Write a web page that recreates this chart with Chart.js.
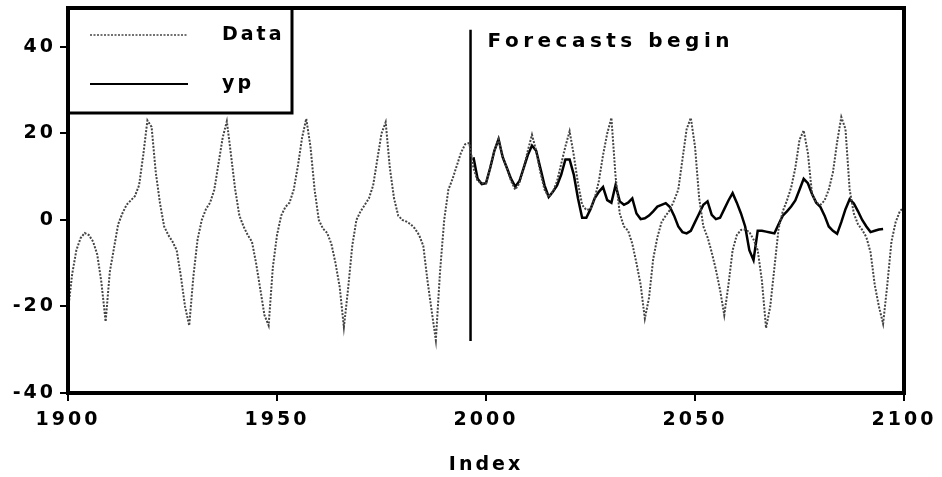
<!DOCTYPE html>
<html>
<head>
<meta charset="utf-8">
<script src="https://cdn.jsdelivr.net/npm/chart.js@4.4.1/dist/chart.umd.min.js"></script>
<style>
  html, body { margin: 0; padding: 0; background: #fff; }
</style>
</head>
<body>
<canvas id="chart" width="942" height="477"></canvas>
<script>
// Observed series, one value per year from 1900 to 2100
const dataStartYear = 1900;
const dataValues = [
  -21, -12.5, -7, -4.2, -3, -3.5, -5, -8, -14.5, -23.5,
  -12, -6.5, -1, 1.5, 3.5, 4.5, 5.5, 8, 15, 23,
  21.5, 11, 3.9, -1.5, -3.5, -5, -7, -13, -20, -24.4,
  -13, -4.5, 0, 2.5, 4, 7, 13, 19, 22.8, 15,
  7, 1, -1.5, -3.5, -5, -10, -16, -22, -24.4, -11,
  -3.5, 1, 3, 4, 7, 12.5, 19, 23.4, 17, 7,
  0, -2, -3, -5.5, -10, -15.5, -24.8, -16, -6, 0,
  2, 3.5, 5, 8, 14, 20, 22.6, 12, 5, 1,
  0, -0.4, -1, -2, -3.5, -6, -14, -21, -27.8, -12,
  0, 7, 9.5, 12.5, 15.5, 17.5, 17.8, 12, 9, 8.5,
  8.5, 12, 16, 18.7, 14.5, 12, 9, 7, 8.5, 12,
  16, 19.7, 16, 11, 7, 5.3, 6.5, 9, 13, 17,
  20.5, 15, 8.5, 3.5, 2.3, 2.5, 5, 9, 15, 20,
  23.6, 10, 1.5, -1.5, -2.5, -5.5, -10, -15, -22.8, -18,
  -9, -4, -0.5, 1, 2.3, 4.5, 7, 14, 21, 23.6,
  17, 5, -1.5, -4, -7.5, -11.5, -16.2, -22, -15, -7,
  -3.5, -2.3, -2.2, -2.8, -4.5, -7, -14, -25, -20, -11,
  -2, 2, 4.5, 7.5, 12, 18.5, 20.7, 15.5, 6, 4,
  3.5, 4.5, 7, 11, 18, 23.8, 21, 7, 1.5, -1,
  -2.3, -4, -7.5, -15, -20, -24, -15, -5, -0.5, 2,
  3
];

// Forecast series yp, one value per year from 1997 to 2095
const ypStartYear = 1997;
const ypValues = [
  14.5, 9.5, 8.3,
  8.5, 12, 16, 18.7, 14.5, 12, 9.5, 7.7, 9, 12,
  15, 17.2, 16, 12, 8, 5.3, 6.5, 8, 10.5, 14,
  14, 10.5, 5, 0.5, 0.5, 2.5, 5, 6.5, 7.6, 4.6,
  4, 8.1, 4.3, 3.5, 4, 5, 1.5, 0.2, 0.4, 1,
  2, 3.1, 3.5, 3.9, 3, 1, -1.5, -2.8, -3.1, -2.5,
  -0.5, 1.5, 3.5, 4.3, 1.2, 0.2, 0.5, 2.5, 4.5, 6.2,
  4, 1.5, -1.5, -7, -9.3, -2.5, -2.5, -2.7, -2.9, -3.1,
  -1, 1, 2, 3.1, 4.5, 7, 9.5, 8.5, 6, 4,
  3, 1, -1.5, -2.5, -3.2, -0.5, 2.5, 4.8, 3.8, 2,
  0, -1.5, -2.8, -2.5, -2.2, -2.1
];

const forecastYear = 1996.3;
const forecastLineRange = [-28, 44];
const forecastLabel = 'Forecasts begin';

const xTicks = [1900, 1950, 2000, 2050, 2100];
const yTicks = [-40, -20, 0, 20, 40];

const toPoints = (start, values) => values.map((v, i) => ({ x: start + i, y: v }));

const boldFont = 'bold 19px "DejaVu Sans"';
const spacing = '3px';

// frame, legend box and forecast label
const decorPlugin = {
  id: 'decor',
  beforeLayout(chart) { chart.ctx.letterSpacing = spacing; },
  beforeDraw(chart) { chart.ctx.letterSpacing = spacing; },
  afterDatasetsDraw(chart) {
    const { ctx, chartArea: a, scales } = chart;
    ctx.save();

    ctx.fillStyle = '#000';
    ctx.font = 'bold 20px "DejaVu Sans"';
    ctx.letterSpacing = '4.5px';
    ctx.textBaseline = 'middle';
    ctx.textAlign = 'left';
    ctx.fillText(forecastLabel, scales.x.getPixelForValue(forecastYear) + 17, scales.y.getPixelForValue(41.3));
    ctx.letterSpacing = spacing;

    // legend
    const boxW = 224, boxH = 105;
    ctx.fillStyle = '#fff';
    ctx.fillRect(a.left, a.top, boxW, boxH);
    ctx.strokeStyle = '#000';
    ctx.lineWidth = 3;
    ctx.strokeRect(a.left, a.top, boxW, boxH);

    const ds = chart.data.datasets;
    const rows = [27, 76];
    [0, 1].forEach((i, r) => {
      const y = a.top + rows[r];
      ctx.beginPath();
      ctx.setLineDash(ds[i].borderDash || []);
      ctx.strokeStyle = ds[i].borderColor;
      ctx.lineWidth = i === 0 ? 1.5 : 2;
      ctx.moveTo(a.left + 22, y);
      ctx.lineTo(a.left + 120, y);
      ctx.stroke();
      ctx.setLineDash([]);
      ctx.fillStyle = '#000';
      ctx.font = boldFont;
      ctx.fillText(ds[i].label, a.left + 154, y);
    });

    // outer frame
    ctx.strokeStyle = '#000';
    ctx.lineWidth = 4;
    ctx.strokeRect(a.left, a.top, a.right - a.left, a.bottom - a.top);
    ctx.restore();
  }
};

const tickFont = { family: 'DejaVu Sans', weight: 'bold', size: 19 };

new Chart(document.getElementById('chart'), {
  type: 'line',
  data: {
    datasets: [
      {
        label: 'Data',
        data: toPoints(dataStartYear, dataValues),
        borderColor: '#444',
        borderWidth: 2,
        borderDash: [2, 1.5],
        pointRadius: 0,
        tension: 0
      },
      {
        label: 'yp',
        data: toPoints(ypStartYear, ypValues),
        borderColor: '#000',
        borderWidth: 2.5,
        pointRadius: 0,
        tension: 0
      },
      {
        label: 'forecast',
        data: [
          { x: forecastYear, y: forecastLineRange[0] },
          { x: forecastYear, y: forecastLineRange[1] }
        ],
        borderColor: '#000',
        borderWidth: 2.5,
        pointRadius: 0
      }
    ]
  },
  options: {
    responsive: false,
    animation: false,
    layout: { padding: { top: 8, right: 38, left: 0, bottom: 0 } },
    plugins: { legend: { display: false }, tooltip: { enabled: false } },
    scales: {
      x: {
        type: 'linear',
        min: 1900,
        max: 2100,
        afterBuildTicks: s => { s.ticks = xTicks.map(v => ({ value: v })); },
        afterFit: s => { s.height = 84; s.paddingLeft = 0; s.paddingRight = 0; },
        grid: { drawOnChartArea: false, tickLength: 8, lineWidth: 2, color: '#000' },
        border: { display: false },
        ticks: {
          color: '#000',
          font: tickFont,
          padding: 8,
          maxRotation: 0,
          autoSkip: false,
          callback: v => String(v)
        },
        title: {
          display: true,
          text: 'Index',
          color: '#000',
          font: tickFont,
          padding: { top: 0, bottom: 1 }
        }
      },
      y: {
        min: -40,
        max: 49,
        afterBuildTicks: s => { s.ticks = yTicks.map(v => ({ value: v })); },
        afterFit: s => { s.width = 68; s.paddingTop = 0; s.paddingBottom = 0; },
        grid: { drawOnChartArea: false, tickLength: 8, lineWidth: 2, color: '#000' },
        border: { display: false },
        ticks: {
          color: '#000',
          font: tickFont,
          padding: 4,
          callback: v => String(v)
        }
      }
    }
  },
  plugins: [decorPlugin]
});
</script>
</body>
</html>
